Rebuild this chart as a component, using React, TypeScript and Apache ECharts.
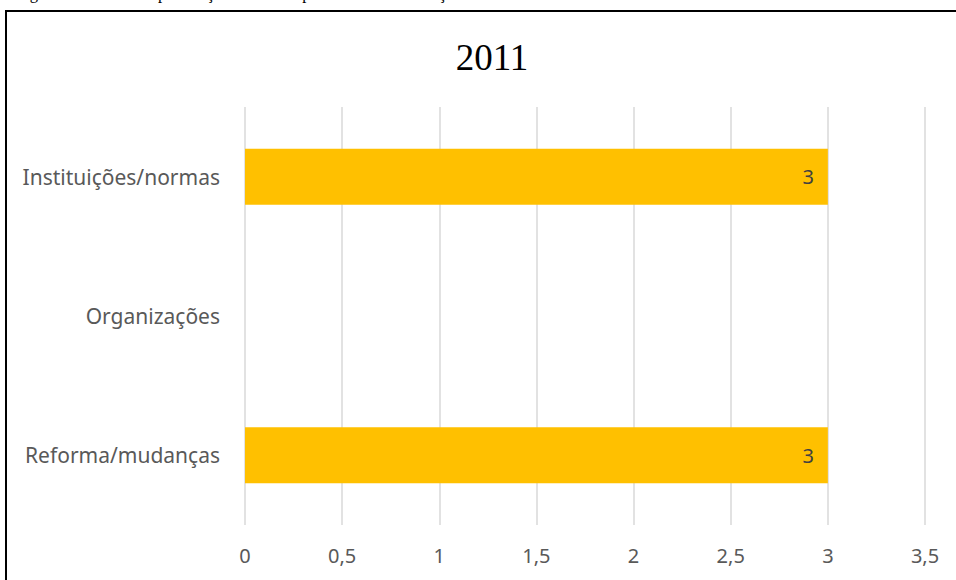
import React, { useEffect, useRef } from "react";
import * as echarts from "echarts";

const categories = ["Reforma/mudanças", "Organizações", "Instituições/normas"];
const values: (number | null)[] = [3, null, 3];
const titleText = "2011";
const captionText = "Figura 6: Número de publicações de ideias por temas na declaração do IFC";

export default function App() {
  const ref = useRef<HTMLDivElement>(null);
  useEffect(() => {
    if (!ref.current) return;
    const chart = echarts.init(ref.current, null, { renderer: "svg" });
    chart.setOption({
      animation: false,
      backgroundColor: "#ffffff",
      title: {
        text: titleText,
        left: 487,
        top: 34,
        textAlign: "center",
        textStyle: {
          fontFamily: "Liberation Serif",
          fontSize: 37,
          fontWeight: "normal",
          color: "#000000",
        },
      },
      graphic: [
        {
          type: "rect",
          shape: { x: 6, y: 11, width: 1000, height: 1000 },
          style: { fill: "none", stroke: "#000000", lineWidth: 2 },
          silent: true,
        },
        {
          type: "text",
          x: 16,
          y: 2,
          style: {
            text: captionText,
            font: "16.5px 'Liberation Serif'",
            fill: "#000000",
            verticalAlign: "bottom",
          },
        },
      ],
      grid: { left: 245, right: 31, top: 107, bottom: 55, containLabel: false },
      xAxis: {
        type: "value",
        min: 0,
        max: 3.5,
        interval: 0.5,
        axisLine: { show: false },
        axisTick: { show: false },
        splitLine: { show: true, lineStyle: { color: "#d9d9d9", width: 1.5 } },
        axisLabel: {
          color: "#595959",
          fontFamily: "Noto Sans",
          fontSize: 20,
          margin: 20,
          formatter: (v: number) => String(v).replace(".", ","),
        },
      },
      yAxis: {
        type: "category",
        data: categories,
        axisLine: { show: false },
        axisTick: { show: false },
        splitLine: { show: false },
        axisLabel: {
          color: "#595959",
          fontFamily: "Noto Sans",
          fontSize: 21,
          margin: 25,
        },
      },
      series: [
        {
          type: "bar",
          data: values,
          barWidth: 56,
          itemStyle: { color: "#ffc000" },
          label: {
            show: true,
            position: "insideRight",
            distance: 14,
            color: "#404040",
            fontFamily: "Noto Sans",
            fontSize: 20,
          },
        },
      ],
    });
    return () => chart.dispose();
  }, []);
  return (
    <div
      ref={ref}
      style={{ position: "fixed", left: 0, top: 0, width: 956, height: 580 }}
    />
  );
}
